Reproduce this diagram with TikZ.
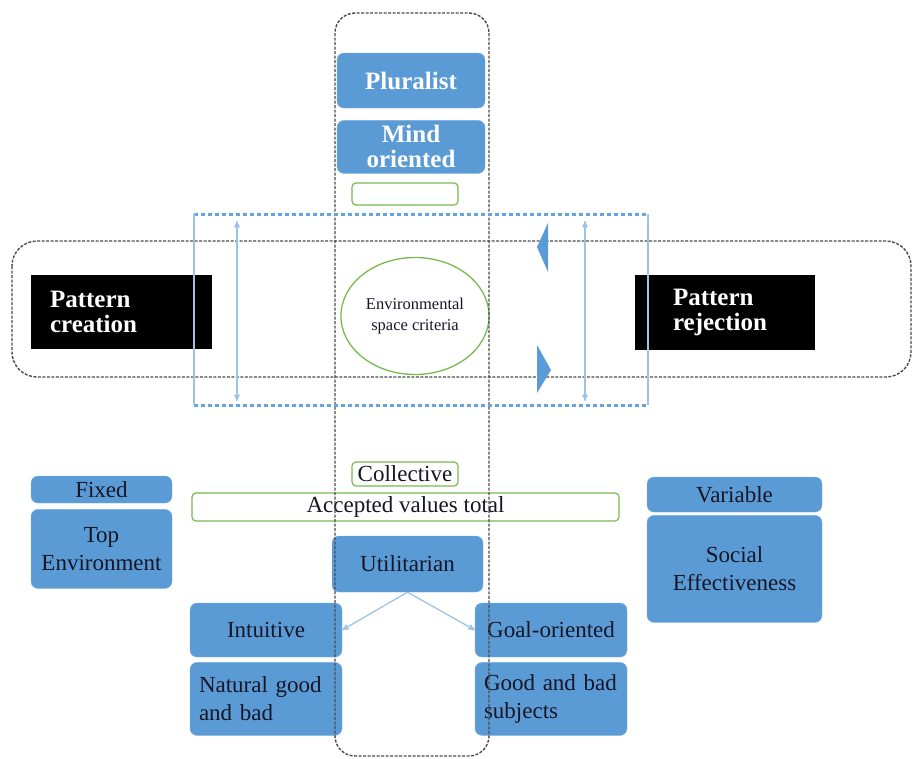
\documentclass[tikz,border=0pt]{standalone}
\usepackage{fontspec}
\setmainfont{Liberation Serif}
\usepackage{tikz}
\usetikzlibrary{positioning, arrows, shapes.geometric}
\definecolor{boxblue}{RGB}{91,155,213}
\definecolor{lineblue}{RGB}{157,195,230}
\definecolor{dotblue}{RGB}{100,165,225}
\definecolor{framegreen}{RGB}{120,185,80}
\definecolor{inkdark}{RGB}{22,22,38}
\tikzset{
>=stealth', % arrow heads of the thin blue connectors
bluebox/.style={draw=boxblue!80!white, fill=boxblue, rounded corners=7pt, inner sep=0pt,
  text=inkdark, align=center, font=\fontsize{23}{28}\selectfont}, % the blue labels
leftbox/.style={bluebox, align=left, text width=134pt}, % blue labels set flush left
headbox/.style={bluebox, text=white, font=\bfseries\fontsize{25}{25}\selectfont}, % white bold heads
blackbox/.style={fill=black, inner sep=0pt, text=white, align=left,
  font=\bfseries\fontsize{25}{25}\selectfont}, % the two pattern boxes
greenbox/.style={draw=framegreen, line width=1.2pt, fill=white, rounded corners=4pt, inner sep=0pt,
  text=inkdark, font=\fontsize{23}{28}\selectfont}, % thin green outlines
dashframe/.style={draw=black!70, line width=1.4pt, dash pattern=on 3pt off 1.5pt}, % black dashed frames
dotline/.style={draw=dotblue, line width=3pt, dash pattern=on 3.5pt off 3.5pt}, % blue dotted band
sideline/.style={draw=lineblue, line width=1.3pt}, % thin blue lines
}

\begin{document}
\begin{tikzpicture}[x=1pt, y=-1pt]
\useasboundingbox (0,0) rectangle (912,758);

% column at the middle
\node[headbox, minimum width=148pt, minimum height=55pt] (plural) at (411,80.5) {Pluralist};
\node[headbox, minimum width=148pt, minimum height=53pt, below=12pt of plural] (mind) {Mind\\oriented};
\node[greenbox, minimum width=106pt, minimum height=22pt] (blank) at (405,194) {};

% band across the middle
\node[blackbox, minimum width=181pt, minimum height=74pt, text width=143pt] (creation) at (121.5,312) {Pattern\\creation};
\node[blackbox, minimum width=180pt, minimum height=75pt, text width=104pt] (rejection) at (725,312.5) {Pattern\\rejection};
\node[ellipse, draw=framegreen, line width=1.3pt, minimum width=130pt, minimum height=117pt,
  align=center, text=inkdark, font=\fontsize{16.5}{21}\selectfont] (criteria) at (415,316) {Environmental\\space criteria};

% values
\node[greenbox, minimum width=106pt, minimum height=24pt] (collective) at (405,474) {Collective};
\node[greenbox, minimum width=427pt, minimum height=28pt] (accepted) at (405.5,507) {Accepted values total};
\node[bluebox, minimum width=151pt, minimum height=56pt] (util) at (407.5,564) {Utilitarian};
\node[bluebox, minimum width=152pt, minimum height=54pt] (intuit) at (266,630) {Intuitive};
\node[leftbox, minimum width=152pt, minimum height=73pt, below=5pt of intuit] (natural) {Natural good\\and bad};
\node[bluebox, minimum width=152pt, minimum height=54pt] (goal) at (551,630) {Goal-oriented};
\node[leftbox, minimum width=152pt, minimum height=73pt, below=5pt of goal] (subjects) {Good and bad\\subjects};

% the two sides
\node[bluebox, minimum width=141pt, minimum height=27pt] (fixed) at (101.5,489.5) {Fixed};
\node[bluebox, minimum width=141pt, minimum height=79pt, below=6pt of fixed] (topenv) {Top\\Environment};
\node[bluebox, minimum width=175pt, minimum height=35pt] (variable) at (734.5,494.5) {Variable};
\node[bluebox, minimum width=175pt, minimum height=107pt, below=3pt of variable] (social) {Social\\Effectiveness};

\draw[->, sideline] (util.south) -- (intuit.east);
\draw[->, sideline] (util.south) -- (goal.west);

% frames
\draw[dashframe, rounded corners=20pt] (335,13) rectangle (489,756);
\draw[dashframe, rounded corners=25pt] (12,241) rectangle (911,377);
\draw[dotline] (194,214) -- (648,214);
\draw[dotline] (194,405) -- (648,405);
\draw[sideline] (194,214) -- (194,405);
\draw[sideline] (648,214) -- (648,405);
\coordinate (ltop) at (237,221);
\coordinate (lbot) at (237,401);
\coordinate (rtop) at (585,221);
\coordinate (rbot) at (585,401);
\draw[<->, sideline] (ltop) -- (lbot);
\draw[<->, sideline] (rtop) -- (rbot);
\fill[boxblue] (548,223) -- (537,247) -- (548,272) -- cycle;
\fill[boxblue] (537,345) -- (551,370) -- (537,393) -- cycle;
\end{tikzpicture}
\end{document}
